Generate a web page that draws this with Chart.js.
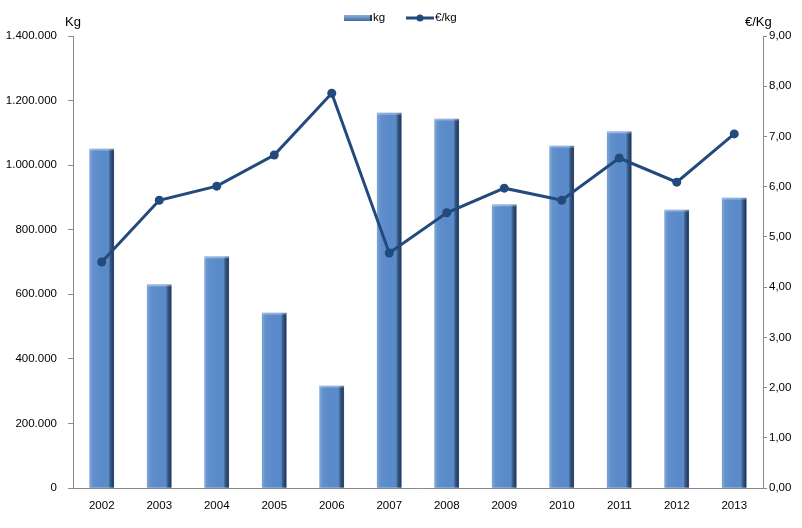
<!DOCTYPE html>
<html>
<head>
<meta charset="utf-8">
<script src="https://cdn.jsdelivr.net/npm/chart.js@4"></script>
<style>
  html, body { margin: 0; padding: 0; background: #fff; }
  #wrap { width: 802px; height: 528px; }
</style>
</head>
<body>
<div id="wrap"><canvas id="chart" width="802" height="528"></canvas></div>
<script>
const years = ['2002', '2003', '2004', '2005', '2006', '2007', '2008', '2009', '2010', '2011', '2012', '2013'];
const kg = [1050000, 629000, 716000, 542000, 316000, 1161000, 1143000, 877000, 1059000, 1103000, 861000, 898000];
const euroPerKg = [4.50, 5.73, 6.01, 6.63, 7.86, 4.68, 5.48, 5.97, 5.73, 6.57, 6.09, 7.05];

const FONT = 'Liberation Sans, Arial, sans-serif';
const BAR = '#5a8bcb';
const LINE = '#224a7c';
const AXIS = '#8a8a8a';

// shading on the bars, reading their positions from the chart
const barShade = {
  id: 'barShade',
  afterDatasetDraw(chart, args) {
    if (args.meta.type !== 'bar') return;
    const ctx = chart.ctx;
    args.meta.data.forEach(el => {
      const left = el.x - el.width / 2, right = el.x + el.width / 2;
      if (!isFinite(left) || !isFinite(right)) return;
      const g = ctx.createLinearGradient(left, 0, right, 0);
      g.addColorStop(0, 'rgba(255,255,255,0.25)');
      g.addColorStop(0.12, 'rgba(255,255,255,0.05)');
      g.addColorStop(0.78, 'rgba(0,0,0,0.0)');
      g.addColorStop(0.87, 'rgba(20,35,60,0.5)');
      g.addColorStop(1, 'rgba(20,35,60,0.85)');
      ctx.save();
      ctx.fillStyle = g;
      ctx.fillRect(left, el.y, el.width, el.base - el.y);
      ctx.fillStyle = 'rgba(255,255,255,0.35)';
      ctx.fillRect(left, el.y, el.width, 1.5);
      ctx.restore();
    });
  }
};

// axis titles and legend at the top
const extras = {
  id: 'extras',
  afterDraw(chart) {
    const ctx = chart.ctx;
    ctx.save();
    ctx.fillStyle = '#000';
    ctx.textBaseline = 'middle';
    ctx.font = '13px ' + FONT;
    ctx.textAlign = 'left';
    ctx.fillText('Kg', 65, 22);
    ctx.fillText('€/Kg', 745, 22);

    // legend
    ctx.font = '11.5px ' + FONT;
    const ly = 18;
    const g = ctx.createLinearGradient(0, ly - 3, 0, ly + 3);
    g.addColorStop(0, '#8fb0db');
    g.addColorStop(1, '#3f6aa3');
    ctx.fillStyle = g;
    ctx.fillRect(344, ly - 3, 26, 6);
    ctx.fillStyle = '#2a3f5c';
    ctx.fillRect(370, ly - 3, 2, 6);
    ctx.fillStyle = '#000';
    ctx.fillText('kg', 373, ly);

    ctx.strokeStyle = LINE;
    ctx.lineWidth = 3;
    ctx.beginPath();
    ctx.moveTo(406, ly);
    ctx.lineTo(434, ly);
    ctx.stroke();
    ctx.fillStyle = LINE;
    ctx.beginPath();
    ctx.arc(420, ly, 3.5, 0, Math.PI * 2);
    ctx.fill();
    ctx.fillStyle = '#000';
    ctx.fillText('€/kg', 435, ly);
    ctx.restore();
  }
};

new Chart(document.getElementById('chart'), {
  data: {
    labels: years,
    datasets: [
      {
        type: 'line',
        label: '€/kg',
        data: euroPerKg,
        yAxisID: 'yRight',
        borderColor: LINE,
        backgroundColor: LINE,
        borderWidth: 3,
        pointRadius: 4.5,
        pointBackgroundColor: LINE,
        pointBorderWidth: 0,
        tension: 0,
        order: 0
      },
      {
        type: 'bar',
        label: 'kg',
        data: kg,
        yAxisID: 'yLeft',
        backgroundColor: BAR,
        borderWidth: 0,
        barThickness: 24,
        order: 1
      }
    ]
  },
  options: {
    responsive: false,
    animation: false,
    layout: { padding: { top: 36, left: 0, right: 0, bottom: 0 } },
    plugins: {
      legend: { display: false },
      tooltip: { enabled: false }
    },
    scales: {
      x: {
        offset: true,
        grid: { display: false, drawTicks: false },
        border: { display: true, color: AXIS, width: 1 },
        ticks: { color: '#000', font: { family: FONT, size: 11.5 }, padding: 11, maxRotation: 0 },
        afterFit(scale) { scale.height = 40; }
      },
      yLeft: {
        position: 'left',
        min: 0,
        max: 1400000,
        grid: { drawOnChartArea: false, color: AXIS, tickLength: 5 },
        border: { display: true, color: AXIS, width: 1 },
        ticks: {
          stepSize: 200000,
          color: '#000',
          font: { family: FONT, size: 11.5 },
          padding: 11,
          callback: v => v === 0 ? '0' : v.toString().replace(/\B(?=(\d{3})+(?!\d))/g, '.')
        },
        afterFit(scale) { scale.width = 73; }
      },
      yRight: {
        position: 'right',
        min: 0,
        max: 9,
        grid: { drawOnChartArea: false, color: AXIS, tickLength: 4 },
        border: { display: true, color: AXIS, width: 1 },
        ticks: {
          stepSize: 1,
          color: '#000',
          font: { family: FONT, size: 11.5 },
          padding: 2,
          callback: v => v.toFixed(2).replace('.', ',')
        },
        afterFit(scale) { scale.width = 39; }
      }
    }
  },
  plugins: [barShade, extras]
});
</script>
</body>
</html>
